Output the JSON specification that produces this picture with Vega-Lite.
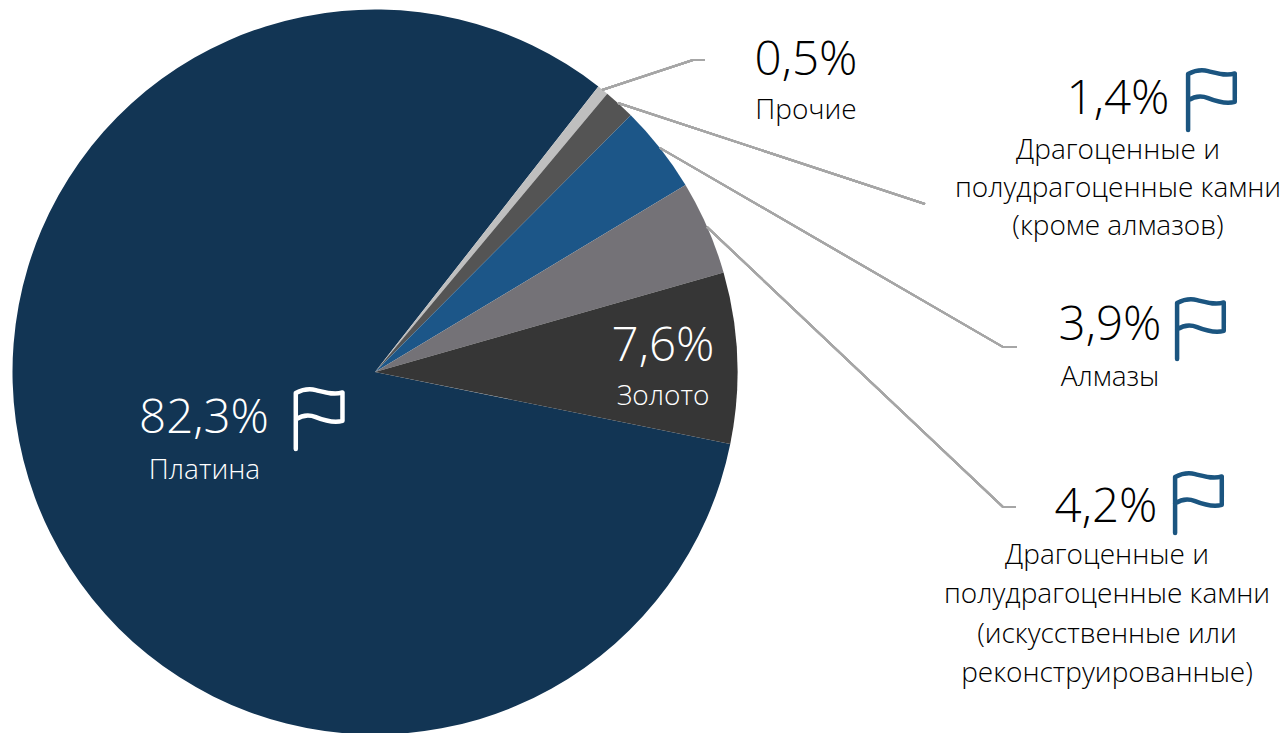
{"$schema":"https://vega.github.io/schema/vega-lite/v6.json","width":1286,"height":733,"padding":0,"autosize":"none","background":"white",
"config":{"view":{"stroke":null},"axis":{"disable":true},"text":{"font":"Open Sans","fontWeight":300,"align":"center","baseline":"alphabetic"}},
"data":{"values":[
{"name":"Платина","share":82.3,"pct":"82,3%","ord":1},
{"name":"Прочие","share":0.5,"pct":"0,5%","ord":2},
{"name":"Драгоценные и\nполудрагоценные камни\n(кроме алмазов)","share":1.4,"pct":"1,4%","ord":3},
{"name":"Алмазы","share":3.9,"pct":"3,9%","ord":4},
{"name":"Драгоценные и\nполудрагоценные камни\n(искусственные или\nреконструированные)","share":4.2,"pct":"4,2%","ord":5},
{"name":"Золото","share":7.6,"pct":"7,6%","ord":6}]},
"layer":[
{"mark":{"type":"arc","outerRadius":362.5},"encoding":{
"x":{"datum":375,"scale":{"domain":[0,1286],"nice":false,"zero":false}},
"y":{"datum":372,"scale":{"domain":[733,0],"nice":false,"zero":false}},
"theta":{"field":"share","type":"quantitative","stack":true,"scale":{"domain":[0,99.9],"range":[1.771,8.054]}},
"order":{"field":"ord"},
"color":{"field":"ord","type":"ordinal","legend":null,"scale":{"domain":[1,2,3,4,5,6],"range":["#123554","#bfbfbf","#545454","#1c5688","#747277","#363636"]}}}},
{"mark":{"type":"rule","color":"#a6a6a6","strokeWidth":2},"encoding":{"x":{"datum":707},"y":{"datum":227},"x2":{"datum":1003},"y2":{"datum":507}}},
{"mark":{"type":"rule","color":"#a6a6a6","strokeWidth":2},"encoding":{"x":{"datum":602},"y":{"datum":90},"x2":{"datum":693},"y2":{"datum":60}}},
{"mark":{"type":"rule","color":"#a6a6a6","strokeWidth":2},"encoding":{"x":{"datum":693},"y":{"datum":60},"x2":{"datum":705},"y2":{"datum":60}}},
{"mark":{"type":"rule","color":"#a6a6a6","strokeWidth":2},"encoding":{"x":{"datum":618},"y":{"datum":103},"x2":{"datum":925},"y2":{"datum":204}}},
{"mark":{"type":"rule","color":"#a6a6a6","strokeWidth":2},"encoding":{"x":{"datum":660},"y":{"datum":148},"x2":{"datum":1003},"y2":{"datum":347}}},
{"mark":{"type":"rule","color":"#a6a6a6","strokeWidth":2},"encoding":{"x":{"datum":1003},"y":{"datum":347},"x2":{"datum":1017},"y2":{"datum":347}}},
{"mark":{"type":"rule","color":"#a6a6a6","strokeWidth":2},"encoding":{"x":{"datum":1003},"y":{"datum":507},"x2":{"datum":1016},"y2":{"datum":507}}},
{"transform":[{"filter":"datum.ord==1"}],"mark":{"type":"text","fontSize":47.5,"color":"white"},"encoding":{"text":{"field":"pct"},"x":{"datum":204},"y":{"datum":433}}},
{"transform":[{"filter":"datum.ord==1"}],"mark":{"type":"text","fontSize":28,"color":"white"},"encoding":{"text":{"field":"name"},"x":{"datum":204.5},"y":{"datum":479}}},
{"transform":[{"filter":"datum.ord==6"}],"mark":{"type":"text","fontSize":47.5,"color":"white"},"encoding":{"text":{"field":"pct"},"x":{"datum":663},"y":{"datum":361}}},
{"transform":[{"filter":"datum.ord==6"}],"mark":{"type":"text","fontSize":28,"color":"white"},"encoding":{"text":{"field":"name"},"x":{"datum":663},"y":{"datum":405}}},
{"transform":[{"filter":"datum.ord==2"}],"mark":{"type":"text","fontSize":47.5,"color":"#000000"},"encoding":{"text":{"field":"pct"},"x":{"datum":806},"y":{"datum":75}}},
{"transform":[{"filter":"datum.ord==2"}],"mark":{"type":"text","fontSize":28,"color":"#000000"},"encoding":{"text":{"field":"name"},"x":{"datum":806},"y":{"datum":119}}},
{"transform":[{"filter":"datum.ord==3"}],"mark":{"type":"text","fontSize":47.5,"color":"#000000"},"encoding":{"text":{"field":"pct"},"x":{"datum":1118},"y":{"datum":114}}},
{"transform":[{"filter":"datum.ord==3"}],"mark":{"type":"text","fontSize":28,"color":"#000000","lineBreak":"\n","lineHeight":38},"encoding":{"text":{"field":"name"},"x":{"datum":1118},"y":{"datum":159}}},
{"transform":[{"filter":"datum.ord==4"}],"mark":{"type":"text","fontSize":47.5,"color":"#000000"},"encoding":{"text":{"field":"pct"},"x":{"datum":1110},"y":{"datum":340}}},
{"transform":[{"filter":"datum.ord==4"}],"mark":{"type":"text","fontSize":28,"color":"#000000"},"encoding":{"text":{"field":"name"},"x":{"datum":1110},"y":{"datum":386}}},
{"transform":[{"filter":"datum.ord==5"}],"mark":{"type":"text","fontSize":47.5,"color":"#000000"},"encoding":{"text":{"field":"pct"},"x":{"datum":1106},"y":{"datum":522}}},
{"transform":[{"filter":"datum.ord==5"}],"mark":{"type":"text","fontSize":28,"color":"#000000","lineBreak":"\n","lineHeight":39.3},"encoding":{"text":{"field":"name"},"x":{"datum":1107},"y":{"datum":564}}},
{"transform":[{"filter":"datum.ord==1"}],"mark":{"type":"point","filled":false,"opacity":1,"stroke":"white","strokeWidth":4.5,"strokeCap":"round","strokeJoin":"round","size":3364,"shape":"M-0.79 1L-0.79 -0.93C-0.5 -1.08 -0.3 -1.08 -0.1 -1.03C0.2 -0.96 0.5 -0.85 0.82 -0.95L0.82 0.03C0.5 0.12 0.2 0.02 -0.1 -0.1C-0.35 -0.2 -0.55 -0.18 -0.79 -0.02"},"encoding":{"x":{"datum":318.7},"y":{"datum":420}}},
{"transform":[{"filter":"datum.ord==3"}],"mark":{"type":"point","filled":false,"opacity":1,"stroke":"#1b5580","strokeWidth":4.5,"strokeCap":"round","strokeJoin":"round","size":3364,"shape":"M-0.79 1L-0.79 -0.93C-0.5 -1.08 -0.3 -1.08 -0.1 -1.03C0.2 -0.96 0.5 -0.85 0.82 -0.95L0.82 0.03C0.5 0.12 0.2 0.02 -0.1 -0.1C-0.35 -0.2 -0.55 -0.18 -0.79 -0.02"},"encoding":{"x":{"datum":1211},"y":{"datum":101}}},
{"transform":[{"filter":"datum.ord==4"}],"mark":{"type":"point","filled":false,"opacity":1,"stroke":"#1b5580","strokeWidth":4.5,"strokeCap":"round","strokeJoin":"round","size":3364,"shape":"M-0.79 1L-0.79 -0.93C-0.5 -1.08 -0.3 -1.08 -0.1 -1.03C0.2 -0.96 0.5 -0.85 0.82 -0.95L0.82 0.03C0.5 0.12 0.2 0.02 -0.1 -0.1C-0.35 -0.2 -0.55 -0.18 -0.79 -0.02"},"encoding":{"x":{"datum":1200},"y":{"datum":330}}},
{"transform":[{"filter":"datum.ord==5"}],"mark":{"type":"point","filled":false,"opacity":1,"stroke":"#1b5580","strokeWidth":4.5,"strokeCap":"round","strokeJoin":"round","size":3364,"shape":"M-0.79 1L-0.79 -0.93C-0.5 -1.08 -0.3 -1.08 -0.1 -1.03C0.2 -0.96 0.5 -0.85 0.82 -0.95L0.82 0.03C0.5 0.12 0.2 0.02 -0.1 -0.1C-0.35 -0.2 -0.55 -0.18 -0.79 -0.02"},"encoding":{"x":{"datum":1198},"y":{"datum":504}}}
]}
